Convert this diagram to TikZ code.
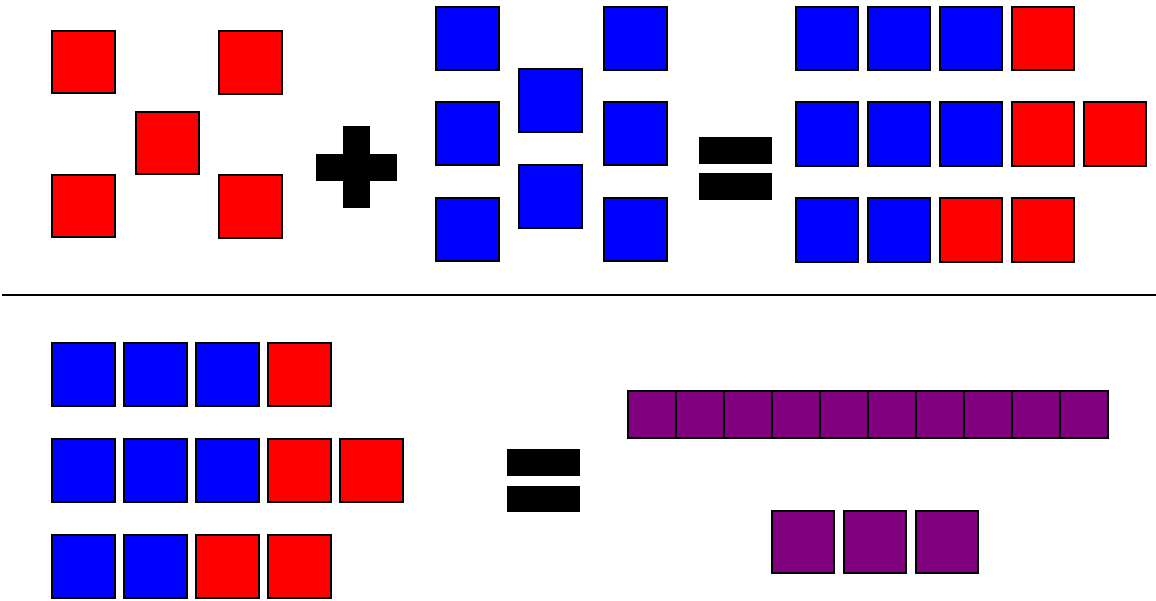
\documentclass[tikz,border=0pt]{standalone}
\usetikzlibrary{positioning}
\definecolor{cred}{rgb}{1.00, 0.00, 0.00}
\definecolor{cblue}{rgb}{0.00, 0.00, 1.00}
\definecolor{cpurple}{rgb}{0.50, 0.00, 0.50}
\tikzset{
  tile/.style = {draw=black, line width=1.5pt},
  tile_red/.style = {tile, fill=cred},
  tile_blue/.style = {tile, fill=cblue},
  tile_purple/.style = {tile, fill=cpurple},
  bar/.style = {fill=black},
}

\begin{document}
\begin{tikzpicture}[x=1pt, y=-1pt]
	\useasboundingbox (0,0) rectangle (1156,601);

	% red group
	\filldraw[tile_red] (52,31) rectangle +(63,62);
	\filldraw[tile_red] (219,31) rectangle +(63,63);
	\filldraw[tile_red] (136,112) rectangle +(63,62);
	\filldraw[tile_red] (52,175) rectangle +(63,62);
	\filldraw[tile_red] (219,175) rectangle +(63,63);

	% plus
	\fill[bar] (343,126) rectangle (370,208);
	\fill[bar] (316,154) rectangle (397,181);

	% blue group
	\foreach \y in {7,102,198}{
		\filldraw[tile_blue] (436,\y) rectangle +(63,63);
		\filldraw[tile_blue] (604,\y) rectangle +(63,63);
	}
	\filldraw[tile_blue] (519,69) rectangle +(63,63);
	\filldraw[tile_blue] (519,165) rectangle +(63,63);

	% equals (top)
	\fill[bar] (699,137) rectangle (772,164);
	\fill[bar] (699,173) rectangle (772,200);

	% sum (top)
	\foreach \c [count=\i from 0] in {blue,blue,blue,red}
		\filldraw[tile_\c] ({796+72*\i},7) rectangle +(62,63);
	\foreach \c [count=\i from 0] in {blue,blue,blue,red,red}
		\filldraw[tile_\c] ({796+72*\i},102) rectangle +(62,64);
	\foreach \c [count=\i from 0] in {blue,blue,red,red}
		\filldraw[tile_\c] ({796+72*\i},198) rectangle +(62,64);

	% separator
	\draw[line width=2pt] (2,295) -- (1156,295);

	% sum (bottom)
	\foreach \c [count=\i from 0] in {blue,blue,blue,red}
		\filldraw[tile_\c] ({52+72*\i},343) rectangle +(63,63);
	\foreach \c [count=\i from 0] in {blue,blue,blue,red,red}
		\filldraw[tile_\c] ({52+72*\i},439) rectangle +(63,63);
	\foreach \c [count=\i from 0] in {blue,blue,red,red}
		\filldraw[tile_\c] ({52+72*\i},535) rectangle +(63,63);

	% equals (bottom)
	\fill[bar] (507,449) rectangle (580,476);
	\fill[bar] (507,486) rectangle (580,512);

	% purple result
	\foreach \i in {0,...,9}
		\filldraw[tile_purple] ({628+48*\i},391) rectangle +(48,47);
	\foreach \i in {0,1,2}
		\filldraw[tile_purple] ({772+72*\i},511) rectangle +(62,62);

\end{tikzpicture}
\end{document}
